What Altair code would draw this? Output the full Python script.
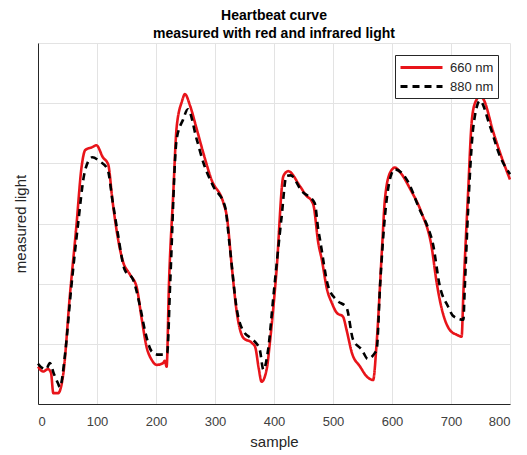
import altair as alt
import pandas as pd

# 660 nm (red light)
red_x = [0, 9, 17, 22, 26, 34, 43, 54, 65, 74, 80, 92, 99, 110, 119, 126, 133, 143, 156, 167,
         176, 184, 193, 201, 212, 215, 218, 222, 229, 235, 244, 249, 258, 269, 280, 294, 314, 320,
         329, 337, 348, 362, 368, 374, 379, 388, 393, 404, 416, 424, 444, 455, 464, 467, 475, 481,
         490, 498, 506, 517, 523, 532, 546, 557, 568, 574, 583, 588, 597, 605, 614, 631, 650, 667,
         676, 681, 698, 710, 718, 721, 729, 735, 741, 749, 754, 772, 783, 800]
red_y = [0.62, 0.54, 0.58, 0.52, 0.18, 0.18, 0.51, 1.8, 2.95, 3.95, 4.22, 4.27, 4.3, 4.1, 3.98, 3.4,
         2.9, 2.4, 2.15, 1.95, 1.4, 0.95, 0.73, 0.65, 0.68, 0.72, 0.62, 2.0, 3.45, 4.6, 5.03, 5.15,
         4.95, 4.57, 4.18, 3.73, 3.35, 3.12, 2.23, 1.52, 1.1, 1.02, 0.95, 0.6, 0.37, 0.6, 1.02, 2.18,
         3.79, 3.87, 3.62, 3.46, 3.37, 3.3, 2.68, 2.4, 1.9, 1.68, 1.52, 1.45, 1.23, 0.85, 0.62, 0.46,
         0.4, 1.02, 2.57, 3.4, 3.85, 3.93, 3.85, 3.57, 3.18, 2.62, 2.0, 1.73, 1.23, 1.15, 1.12, 1.85,
         3.52, 4.68, 5.01, 5.11, 5.08, 4.51, 4.18, 3.73]

# 880 nm (infrared light)
ir_x = [0, 7, 14, 20, 27, 34, 37, 46, 56, 68, 78, 85, 92, 105, 118, 126, 135, 147, 161, 173, 181,
        193, 204, 215, 219, 224, 235, 246, 254, 269, 280, 297, 317, 325, 337, 347, 364, 370, 376,
        382, 390, 399, 413, 421, 428, 447, 469, 475, 478, 492, 506, 523, 534, 549, 559, 571, 574,
        580, 588, 599, 605, 625, 647, 661, 669, 681, 695, 704, 721, 723, 729, 738, 749, 766, 783, 800]
ir_y = [0.67, 0.6, 0.58, 0.68, 0.5, 0.34, 0.28, 0.84, 1.9, 3.0, 3.8, 4.03, 4.1, 4.03, 3.9, 3.4,
        2.85, 2.23, 2.07, 1.62, 1.23, 0.87, 0.82, 0.82, 0.85, 2.0, 4.4, 4.73, 4.9, 4.4, 4.02, 3.62,
        3.28, 2.62, 1.57, 1.23, 1.07, 1.01, 0.9, 0.57, 0.9, 1.79, 3.12, 3.79, 3.8, 3.54, 3.34, 2.9,
        2.73, 1.95, 1.73, 1.6, 1.07, 0.9, 0.75, 0.85, 0.9, 2.0, 3.12, 3.82, 3.9, 3.73, 3.23, 2.93,
        2.68, 1.96, 1.62, 1.46, 1.4, 1.85, 3.23, 4.62, 5.04, 4.62, 4.12, 3.82]

series = ["660 nm", "880 nm"]
x_ticks = [0, 100, 200, 300, 400, 500, 600, 700, 800]

rows = []
for i, (xv, yv) in enumerate(zip(red_x, red_y)):
    rows.append({"sample": xv, "value": yv, "series": series[0], "order": i})
for i, (xv, yv) in enumerate(zip(ir_x, ir_y)):
    rows.append({"sample": xv, "value": yv, "series": series[1], "order": i})
df = pd.DataFrame(rows)

FONT = "Liberation Sans"

chart = alt.Chart(df).mark_line(strokeWidth=2.6, strokeJoin="round", interpolate="monotone").encode(
    x=alt.X("sample:Q", title="sample",
            scale=alt.Scale(domain=[0, 800], nice=False),
            axis=alt.Axis(values=x_ticks, labelFontSize=13, labelColor="#404040",
                          titleFontSize=15, titleFontWeight="normal", titleColor="#262626",
                          titlePadding=6, ticks=False, labelPadding=11, labelFont=FONT,
                          titleFont=FONT, domainColor="#262626", gridColor="#e3e3e3")),
    y=alt.Y("value:Q", title="measured light",
            scale=alt.Scale(domain=[0, 6], nice=False),
            axis=alt.Axis(values=[0, 1, 2, 3, 4, 5, 6], labels=False, ticks=False,
                          titleFontSize=15, titleFontWeight="normal", titleColor="#262626",
                          titlePadding=10, titleFont=FONT, domainColor="#262626",
                          gridColor="#e3e3e3")),
    color=alt.Color("series:N", title=None,
                    scale=alt.Scale(domain=series, range=["#e8141a", "#000000"]),
                    legend=alt.Legend(orient="top-right", offset=12, fillColor="white",
                                      strokeColor="#262626", padding=4,
                                      symbolType="M-3,0H3", symbolSize=196,
                                      symbolStrokeWidth=3, symbolOffset=14,
                                      labelFontSize=13, labelFont=FONT, labelColor="#262626",
                                      rowPadding=3, labelOffset=20)),
    strokeDash=alt.StrokeDash("series:N", title=None,
                              scale=alt.Scale(domain=series, range=[[1, 0], [7, 5]])),
    order="order:Q",
).properties(
    width=472,
    height=361,
    title=alt.Title(["Heartbeat curve", "measured with red and infrared light"],
                    fontSize=14, fontWeight="bold", font=FONT, color="#000000",
                    anchor="middle", offset=2, lineHeight=18),
    autosize=alt.AutoSizeParams(type="none"),
    padding={"left": 30, "top": 35, "right": 9, "bottom": 52},
).configure_view(stroke="transparent")

chart.save("out.html", embed_options={"renderer": "svg", "actions": False})
